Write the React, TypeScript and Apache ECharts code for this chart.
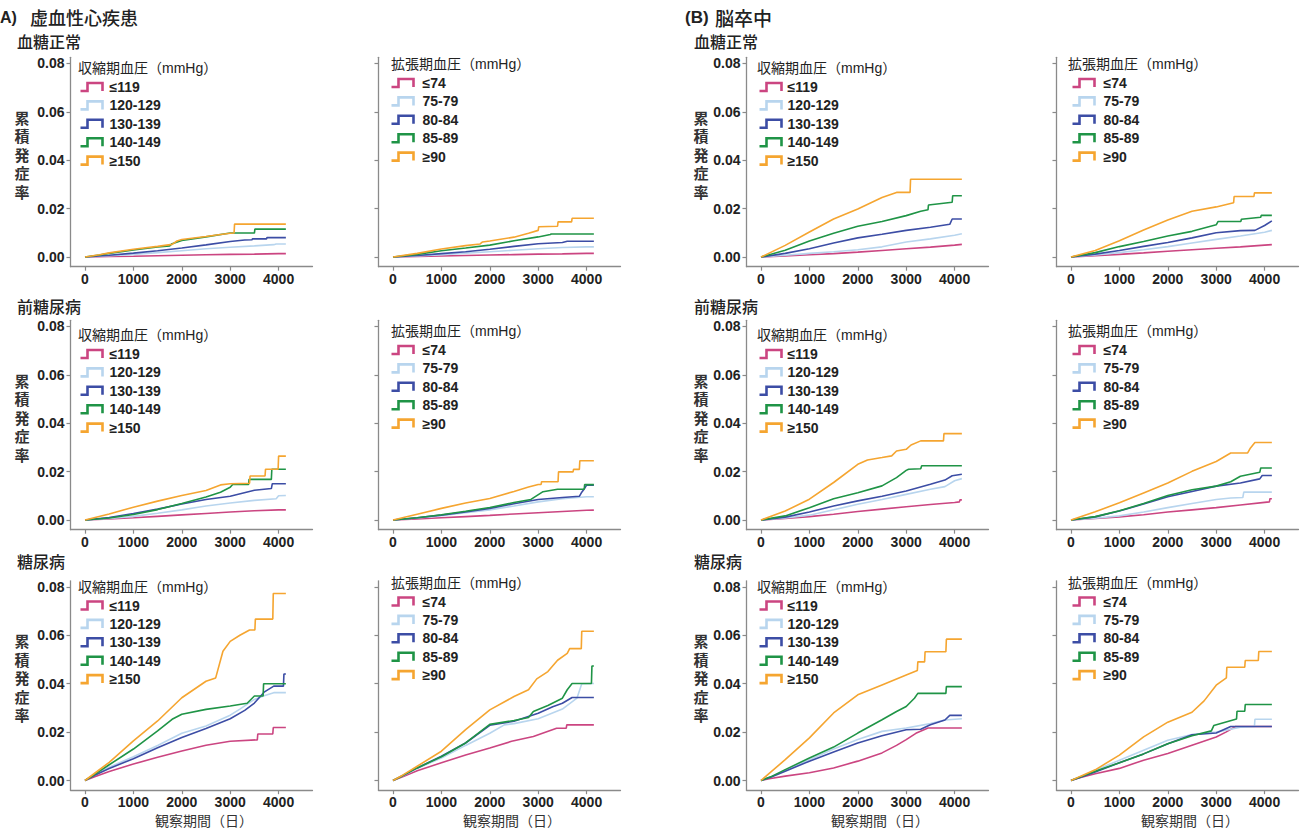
import React, { useEffect, useRef } from "react";
import * as echarts from "echarts";

// ---------- labels ----------
const sbpGroups = ["≤119", "120-129", "130-139", "140-149", "≥150"];
const dbpGroups = ["≤74", "75-79", "80-84", "85-89", "≥90"];
const groupColors = ["#CB4581", "#B8D5EE", "#3C4DA5", "#1F9446", "#F5A530"];
const xTicks = [0, 1000, 2000, 3000, 4000];
const yTicks = [0, 0.02, 0.04, 0.06, 0.08];
const rowTitles = ["血糖正常", "前糖尿病", "糖尿病"];
const sbpTitle = "収縮期血圧（mmHg）";
const dbpTitle = "拡張期血圧（mmHg）";
const yTitle = "累積発症率";
const xTitle = "観察期間（日）";

// ---------- data: [day, cumulative incidence] per BP group ----------
// (A) 虚血性心疾患 / 血糖正常
const ihdNormalSBP = [
  [[0,0],[500,0.0002],[1000,0.0003],[1500,0.0005],[2000,0.0007],[2500,0.0009],[3000,0.0011],[3500,0.0012],[4000,0.0014],[4150,0.0014]],
  [[0,0],[500,0.0005],[1000,0.0011],[1500,0.0018],[2000,0.0026],[2500,0.0034],[3000,0.004],[3500,0.0046],[3900,0.0051],[3950,0.0054],[4150,0.0054]],
  [[0,0],[500,0.0007],[1000,0.0016],[1500,0.0026],[2000,0.0037],[2500,0.005],[3000,0.0064],[3300,0.007],[3450,0.0071],[3460,0.0075],[3750,0.0075],[3760,0.008],[4150,0.008]],
  [[0,0],[300,0.0008],[500,0.0015],[1000,0.0029],[1500,0.0041],[1750,0.0046],[1800,0.0055],[2000,0.0068],[2500,0.0083],[3000,0.0099],[3500,0.0099],[3510,0.0115],[4150,0.0115]],
  [[0,0],[300,0.0009],[500,0.0017],[1000,0.0032],[1500,0.0044],[1800,0.0052],[1900,0.0066],[2000,0.0072],[2500,0.0085],[2800,0.0093],[3000,0.0098],[3080,0.0099],[3090,0.0136],[4150,0.0136]],
];
const ihdNormalDBP = [
  [[0,0],[500,0.0002],[1000,0.0004],[1500,0.0006],[2000,0.0008],[2500,0.001],[3000,0.0012],[3500,0.0013],[4000,0.0015],[4150,0.0015]],
  [[0,0],[500,0.0004],[1000,0.001],[1500,0.0016],[2000,0.0022],[2500,0.0028],[3000,0.0034],[3500,0.0039],[4000,0.0042],[4150,0.0042]],
  [[0,0],[500,0.0006],[1000,0.0014],[1500,0.0022],[2000,0.0032],[2500,0.0044],[3000,0.0055],[3500,0.006],[3600,0.0065],[4150,0.0065]],
  [[0,0],[500,0.0011],[1000,0.0026],[1500,0.0037],[2000,0.0049],[2500,0.0067],[3000,0.0083],[3250,0.0093],[3270,0.0095],[4150,0.0095]],
  [[0,0],[500,0.0015],[1000,0.0033],[1500,0.0047],[1800,0.0054],[1850,0.0062],[2000,0.0066],[2500,0.0082],[2800,0.0098],[3000,0.011],[3010,0.0125],[3400,0.0127],[3410,0.0145],[3690,0.0145],[3700,0.016],[4150,0.016]],
];
// (A) / 前糖尿病
const ihdPreSBP = [
  [[0,0],[500,0.0004],[1000,0.0009],[1500,0.0015],[2000,0.0021],[2500,0.0027],[3000,0.0033],[3500,0.0038],[4000,0.0042],[4150,0.0042]],
  [[0,0],[500,0.0006],[1000,0.0015],[1500,0.0028],[2000,0.0042],[2500,0.0058],[3000,0.007],[3500,0.0081],[3950,0.0088],[4000,0.01],[4150,0.0101]],
  [[0,0],[500,0.001],[1000,0.0027],[1500,0.0045],[2000,0.0066],[2500,0.0085],[3000,0.0098],[3500,0.0123],[3850,0.013],[3870,0.015],[4150,0.015]],
  [[0,0],[500,0.0008],[1000,0.0023],[1500,0.0043],[2000,0.0068],[2500,0.0095],[2800,0.0115],[3000,0.0135],[3050,0.0147],[3380,0.0147],[3390,0.0168],[3850,0.0168],[3860,0.021],[4150,0.021]],
  [[0,0],[500,0.0025],[1000,0.0053],[1500,0.0078],[2000,0.0101],[2500,0.0122],[2800,0.0145],[3000,0.015],[3400,0.0152],[3410,0.0182],[3720,0.0182],[3730,0.021],[3990,0.021],[4000,0.0264],[4150,0.0264]],
];
const ihdPreDBP = [
  [[0,0],[500,0.0004],[1000,0.0009],[1500,0.0014],[2000,0.0019],[2500,0.0025],[3000,0.003],[3500,0.0035],[4000,0.004],[4150,0.0041]],
  [[0,0],[500,0.0008],[1000,0.0018],[1500,0.003],[2000,0.0042],[2500,0.0058],[3000,0.0075],[3500,0.0088],[4000,0.0096],[4150,0.0096]],
  [[0,0],[500,0.0009],[1000,0.002],[1500,0.0033],[2000,0.0048],[2500,0.0067],[3000,0.0085],[3500,0.0093],[3850,0.0098],[3900,0.0115],[3950,0.0128],[4000,0.0144],[4150,0.0144]],
  [[0,0],[500,0.0009],[1000,0.0022],[1500,0.0036],[2000,0.0052],[2500,0.0072],[2850,0.0085],[3100,0.0117],[3400,0.0127],[3950,0.0127],[3960,0.0146],[4150,0.0146]],
  [[0,0],[500,0.0024],[1000,0.0048],[1500,0.007],[2000,0.0089],[2500,0.0118],[2800,0.0136],[3000,0.0147],[3060,0.0147],[3070,0.0158],[3410,0.0158],[3420,0.0199],[3720,0.0199],[3730,0.0209],[3850,0.0209],[3860,0.0245],[4150,0.0245]],
];
// (A) / 糖尿病
const ihdDmSBP = [
  [[0,0],[200,0.0015],[500,0.0037],[1000,0.0068],[1500,0.0096],[2000,0.0122],[2500,0.0146],[3000,0.0162],[3560,0.0168],[3570,0.0192],[3880,0.0192],[3890,0.0219],[4150,0.0219]],
  [[0,0],[200,0.0025],[500,0.0055],[1000,0.0098],[1500,0.0145],[2000,0.0195],[2500,0.0225],[3000,0.027],[3200,0.0295],[3500,0.0335],[3700,0.035],[3900,0.0363],[4150,0.0363]],
  [[0,0],[200,0.0022],[500,0.005],[1000,0.009],[1500,0.0135],[2000,0.0178],[2500,0.0215],[3000,0.0255],[3300,0.029],[3500,0.032],[3700,0.0365],[3900,0.039],[4100,0.039],[4110,0.044],[4150,0.044]],
  [[0,0],[200,0.0025],[500,0.0065],[1000,0.013],[1500,0.0205],[1800,0.0253],[2000,0.0274],[2500,0.0294],[3000,0.0308],[3350,0.0319],[3500,0.0349],[3680,0.0349],[3690,0.04],[4150,0.04]],
  [[0,0],[200,0.003],[500,0.0075],[1000,0.0164],[1500,0.0246],[2000,0.0342],[2500,0.041],[2700,0.0424],[2850,0.0534],[3000,0.0575],[3200,0.06],[3400,0.0622],[3510,0.0622],[3520,0.0667],[3880,0.0667],[3890,0.0773],[4150,0.0773]],
];
const ihdDmDBP = [
  [[0,0],[200,0.0015],[500,0.004],[1000,0.0073],[1500,0.0105],[2000,0.0134],[2450,0.0162],[2900,0.0182],[3380,0.0216],[3580,0.0216],[3590,0.023],[4150,0.023]],
  [[0,0],[200,0.002],[500,0.005],[1000,0.0093],[1500,0.0145],[2000,0.0195],[2300,0.023],[2500,0.0235],[3000,0.0255],[3500,0.0295],[3800,0.034],[3900,0.04],[4150,0.0401]],
  [[0,0],[200,0.002],[500,0.0052],[1000,0.01],[1500,0.0155],[2000,0.0228],[2500,0.0245],[3000,0.0278],[3300,0.0305],[3500,0.0319],[3700,0.0343],[4150,0.0343]],
  [[0,0],[200,0.002],[500,0.0052],[1000,0.0098],[1500,0.0155],[2000,0.0232],[2500,0.0248],[2800,0.026],[2900,0.0285],[3200,0.031],[3500,0.034],[3600,0.0375],[3700,0.0401],[4100,0.0401],[4110,0.0473],[4150,0.0473]],
  [[0,0],[200,0.0022],[500,0.0059],[1000,0.0121],[1500,0.021],[2000,0.0292],[2500,0.0347],[2800,0.0375],[2970,0.042],[3200,0.045],[3400,0.0497],[3600,0.0525],[3650,0.0545],[3890,0.0545],[3900,0.0617],[4150,0.0617]],
];
// (B) 脳卒中 / 血糖正常
const strokeNormalSBP = [
  [[0,0],[500,0.0004],[1000,0.0009],[1500,0.0014],[2000,0.002],[2500,0.0027],[3000,0.0034],[3500,0.0041],[4000,0.0049],[4150,0.0052]],
  [[0,0],[500,0.0007],[1000,0.0015],[1500,0.0022],[2000,0.003],[2500,0.0042],[3000,0.0062],[3500,0.0075],[4000,0.009],[4150,0.0096]],
  [[0,0],[500,0.0015],[1000,0.0034],[1500,0.0058],[2000,0.0079],[2500,0.0094],[3000,0.011],[3500,0.0123],[3900,0.0135],[3950,0.0157],[4150,0.0157]],
  [[0,0],[500,0.0028],[1000,0.0066],[1500,0.0098],[2000,0.0127],[2500,0.0147],[3000,0.0171],[3300,0.0189],[3450,0.0195],[3460,0.0215],[3950,0.0226],[3960,0.0253],[4150,0.0253]],
  [[0,0],[500,0.0048],[1000,0.0103],[1500,0.0157],[2000,0.0198],[2500,0.0246],[2800,0.0267],[3080,0.0267],[3090,0.0321],[4150,0.0321]],
];
const strokeNormalDBP = [
  [[0,0],[500,0.0005],[1000,0.0011],[1500,0.0017],[2000,0.0024],[2500,0.003],[3000,0.0036],[3500,0.0042],[4000,0.0049],[4150,0.0051]],
  [[0,0],[500,0.0008],[1000,0.0018],[1500,0.003],[2000,0.0043],[2500,0.0058],[3000,0.0073],[3500,0.0087],[4000,0.0102],[4150,0.011]],
  [[0,0],[500,0.0012],[1000,0.0027],[1500,0.0044],[2000,0.006],[2500,0.0079],[3000,0.01],[3500,0.0109],[3800,0.011],[4000,0.013],[4150,0.0149]],
  [[0,0],[500,0.0018],[1000,0.0043],[1500,0.0064],[2000,0.0087],[2500,0.0106],[3000,0.0133],[3040,0.0147],[3510,0.0147],[3520,0.0156],[3920,0.0164],[3930,0.0172],[4150,0.0172]],
  [[0,0],[500,0.0027],[1000,0.0067],[1500,0.0112],[2000,0.0153],[2500,0.0189],[3000,0.0207],[3360,0.0224],[3370,0.025],[3780,0.025],[3790,0.0265],[4150,0.0265]],
];
// (B) / 前糖尿病
const strokePreSBP = [
  [[0,0],[500,0.0006],[1000,0.0014],[1500,0.0024],[2000,0.0035],[2500,0.0045],[3000,0.0055],[3500,0.0064],[4000,0.0072],[4100,0.0075],[4110,0.0083],[4150,0.0083]],
  [[0,0],[500,0.0008],[1000,0.002],[1500,0.0042],[2000,0.0065],[2500,0.0085],[3000,0.0106],[3500,0.0127],[3800,0.0138],[4000,0.0162],[4150,0.0171]],
  [[0,0],[500,0.0012],[1000,0.0033],[1500,0.0058],[2000,0.0079],[2500,0.0098],[3000,0.012],[3500,0.0148],[3800,0.0165],[3950,0.0183],[4150,0.0189]],
  [[0,0],[500,0.0017],[1000,0.0051],[1500,0.0088],[2000,0.0113],[2500,0.0141],[2800,0.0175],[3000,0.0205],[3050,0.021],[3300,0.0212],[3320,0.0224],[4150,0.0224]],
  [[0,0],[500,0.0037],[1000,0.0086],[1500,0.0155],[2000,0.023],[2200,0.0248],[2500,0.0258],[2700,0.0265],[2800,0.0285],[3000,0.0292],[3100,0.031],[3300,0.0327],[3770,0.0327],[3780,0.0357],[4150,0.0357]],
];
const strokePreDBP = [
  [[0,0],[500,0.0006],[1000,0.0013],[1500,0.0022],[2000,0.0033],[2500,0.0042],[3000,0.0051],[3500,0.0062],[4000,0.0073],[4100,0.0075],[4110,0.0088],[4150,0.0088]],
  [[0,0],[500,0.0007],[1000,0.0017],[1500,0.0033],[2000,0.0051],[2500,0.0068],[3000,0.0085],[3300,0.0091],[3550,0.0093],[3570,0.0115],[4150,0.0115]],
  [[0,0],[500,0.0013],[1000,0.0037],[1500,0.0066],[2000,0.0096],[2500,0.0118],[3000,0.014],[3500,0.0153],[3900,0.017],[3950,0.0184],[4150,0.0184]],
  [[0,0],[500,0.0014],[1000,0.0038],[1500,0.0068],[2000,0.0101],[2500,0.0125],[3000,0.014],[3300,0.0158],[3500,0.0181],[3900,0.0197],[3920,0.0215],[4150,0.0215]],
  [[0,0],[500,0.0034],[1000,0.0071],[1500,0.0112],[2000,0.0153],[2500,0.0201],[3000,0.0242],[3300,0.0277],[3650,0.0277],[3700,0.0295],[3800,0.032],[4150,0.032]],
];
// (B) / 糖尿病
const strokeDmSBP = [
  [[0,0],[200,0.0008],[500,0.0018],[1000,0.0032],[1500,0.0052],[2000,0.008],[2500,0.0114],[2800,0.0145],[3000,0.0169],[3200,0.0195],[3450,0.0217],[4150,0.0217]],
  [[0,0],[200,0.0015],[500,0.0042],[1000,0.0086],[1500,0.013],[2000,0.0169],[2500,0.0203],[3000,0.0217],[3500,0.0235],[3800,0.025],[4150,0.0255]],
  [[0,0],[200,0.0013],[500,0.0038],[1000,0.008],[1500,0.0118],[2000,0.0155],[2500,0.0185],[3000,0.021],[3300,0.0212],[3500,0.023],[3800,0.025],[3900,0.0269],[4150,0.0269]],
  [[0,0],[200,0.0015],[500,0.0045],[1000,0.0093],[1500,0.0138],[2000,0.0196],[2500,0.0251],[2800,0.0285],[3000,0.0306],[3170,0.034],[3240,0.036],[3820,0.036],[3830,0.0388],[4150,0.0388]],
  [[0,0],[200,0.0035],[500,0.0086],[1000,0.0176],[1500,0.0279],[2000,0.0354],[2500,0.0395],[3000,0.0436],[3230,0.0455],[3240,0.049],[3380,0.049],[3390,0.0532],[3820,0.0532],[3830,0.0584],[4150,0.0584]],
];
const strokeDmDBP = [
  [[0,0],[200,0.0012],[500,0.0028],[1000,0.005],[1500,0.0084],[2000,0.0112],[2500,0.0146],[3000,0.018],[3200,0.02],[3400,0.0223],[4150,0.0223]],
  [[0,0],[200,0.0015],[500,0.0042],[1000,0.0084],[1500,0.0125],[2000,0.0166],[2500,0.019],[3000,0.02],[3500,0.022],[3790,0.0223],[3800,0.0253],[4150,0.0253]],
  [[0,0],[200,0.0013],[500,0.0035],[1000,0.0073],[1500,0.011],[2000,0.0152],[2500,0.0189],[3000,0.0196],[3300,0.0223],[4150,0.0223]],
  [[0,0],[200,0.0015],[500,0.0038],[1000,0.0073],[1500,0.011],[2000,0.0152],[2500,0.0185],[2900,0.0205],[2950,0.0227],[3420,0.0254],[3430,0.0286],[3590,0.0286],[3600,0.0314],[4150,0.0314]],
  [[0,0],[200,0.0018],[500,0.0044],[1000,0.0105],[1500,0.018],[2000,0.0241],[2500,0.0282],[2750,0.0329],[3000,0.0394],[3210,0.0424],[3220,0.0468],[3590,0.0468],[3600,0.0496],[3870,0.0496],[3880,0.0533],[4150,0.0533]],
];

const panels = [
  { col: 0, row: 0, kind: "sbp", curves: ihdNormalSBP },
  { col: 1, row: 0, kind: "dbp", curves: ihdNormalDBP },
  { col: 2, row: 0, kind: "sbp", curves: strokeNormalSBP },
  { col: 3, row: 0, kind: "dbp", curves: strokeNormalDBP },
  { col: 0, row: 1, kind: "sbp", curves: ihdPreSBP },
  { col: 1, row: 1, kind: "dbp", curves: ihdPreDBP },
  { col: 2, row: 1, kind: "sbp", curves: strokePreSBP },
  { col: 3, row: 1, kind: "dbp", curves: strokePreDBP },
  { col: 0, row: 2, kind: "sbp", curves: ihdDmSBP },
  { col: 1, row: 2, kind: "dbp", curves: ihdDmDBP },
  { col: 2, row: 2, kind: "sbp", curves: strokeDmSBP },
  { col: 3, row: 2, kind: "dbp", curves: strokeDmDBP },
];

// ---------- layout (pixels) ----------
const LATIN = "'Liberation Sans', Arial, 'Noto Sans CJK JP', sans-serif";
const CJK = "'Noto Sans CJK JP', 'Liberation Sans', sans-serif";
const AXIS_COLOR = "#8a8a8a";
const TEXT_COLOR = "#222";
const X_MIN = -300, X_MAX = 4700, Y_MIN = -0.004, Y_MAX = 0.0825;
const PX_PER_DAY = 0.0484;
const PX_PER_UNIT = 2420;
const colX0 = [85, 393, 761, 1071];
const rowY0 = [257, 520, 780.5];
const legIconX = [78, 389, 757, 1070];
const legTextPad = [2, 4, 1, 4];
const legTitleX = [78, 391, 757, 1068];
const rowTitleDy = [-191, -187, -196];
const colTitleAdj = [2, -2, 2, -2];

function buildOption() {
  const grid: any[] = [], xAxis: any[] = [], yAxis: any[] = [], series: any[] = [], legend: any[] = [], graphic: any[] = [];
  panels.forEach((p, i) => {
    const x0 = colX0[p.col], y0 = rowY0[p.row];
    const isLeft = p.col % 2 === 0;
    const names = p.kind === "sbp" ? sbpGroups : dbpGroups;
    grid.push({
      left: x0 + X_MIN * PX_PER_DAY,
      top: y0 - Y_MAX * PX_PER_UNIT,
      width: (X_MAX - X_MIN) * PX_PER_DAY,
      height: (Y_MAX - Y_MIN) * PX_PER_UNIT,
      containLabel: false,
    });
    xAxis.push({
      type: "value", gridIndex: i, min: X_MIN, max: X_MAX,
      axisLine: { show: true, onZero: false, lineStyle: { color: AXIS_COLOR, width: 1.3 } },
      axisTick: { show: true, customValues: xTicks, length: 4, lineStyle: { color: AXIS_COLOR, width: 1.2 } },
      axisLabel: { customValues: xTicks, margin: 5, fontSize: 14, fontWeight: "bold", color: TEXT_COLOR, fontFamily: LATIN,
        formatter: (v: number) => String(Math.round(v)) },
      splitLine: { show: false },
    });
    yAxis.push({
      type: "value", gridIndex: i, min: Y_MIN, max: Y_MAX,
      axisLine: { show: true, onZero: false, lineStyle: { color: AXIS_COLOR, width: 1.3 } },
      axisTick: { show: true, customValues: yTicks, length: 4, lineStyle: { color: AXIS_COLOR, width: 1.2 } },
      axisLabel: {
        show: isLeft, customValues: yTicks, margin: 6, fontSize: 14, fontWeight: "bold", color: TEXT_COLOR, fontFamily: LATIN,
        formatter: (v: number) => v.toFixed(2),
      },
      splitLine: { show: false },
    });
    p.curves.forEach((curve, k) => {
      series.push({
        type: "line", name: names[k], xAxisIndex: i, yAxisIndex: i, data: curve,
        showSymbol: false, symbol: "none", silent: true, color: groupColors[k],
        lineStyle: { width: 1.6, color: groupColors[k] },
      });
    });
    const titleY = y0 + rowTitleDy[p.row] + colTitleAdj[p.col];
    graphic.push({
      type: "text", x: legTitleX[p.col], y: titleY,
      style: { text: p.kind === "sbp" ? sbpTitle : dbpTitle, fontSize: 14, fontFamily: LATIN, fill: TEXT_COLOR,
        align: "left", verticalAlign: "middle", textAlign: "left", textVerticalAlign: "middle" },
    });
    legend.push({
      orient: "vertical", left: legIconX[p.col], top: titleY + 19 - 9.2, padding: 0, itemGap: 0,
      itemWidth: 22, itemHeight: 9, selectedMode: false,
      icon: "path://M0,8H7V0H22V8",
      data: names.map((n, k) => ({
        name: n,
        itemStyle: { color: "none", borderColor: groupColors[k], borderWidth: 2.6 },
      })),
      textStyle: { fontSize: 14, fontWeight: "bold", color: TEXT_COLOR, fontFamily: LATIN, lineHeight: 18.4, padding: [0, 0, 0, legTextPad[p.col]] },
    });
    if (p.row === 2) {
      graphic.push({
        type: "text", x: x0 + 119, y: y0 + 39.5,
        style: { text: xTitle, fontSize: 14, fontFamily: CJK, fill: "#333",
          align: "center", verticalAlign: "middle", textAlign: "center", textVerticalAlign: "middle" },
      });
    }
    if (isLeft) {
      graphic.push({
        type: "text", x: p.col === 0 ? 22 : 701, y: y0 - 103,
        style: { text: yTitle.split("").join("\n"), fontSize: 15, lineHeight: 18.5, fontFamily: CJK, fontWeight: "bold", fill: "#333",
          align: "center", verticalAlign: "middle", textAlign: "center", textVerticalAlign: "middle" },
      });
    }
  });
  // section titles
  graphic.push({ type: "text", x: 0, y: 17, style: { text: "A)", fontSize: 16, fontWeight: "bold", fontFamily: LATIN, fill: "#222", align: "left", verticalAlign: "middle", textAlign: "left", textVerticalAlign: "middle" } });
  graphic.push({ type: "text", x: 30, y: 17, style: { text: "虚血性心疾患", fontSize: 18, fontWeight: 500, fontFamily: CJK, fill: "#222", align: "left", verticalAlign: "middle", textAlign: "left", textVerticalAlign: "middle" } });
  graphic.push({ type: "text", x: 685, y: 17, style: { text: "(B)", fontSize: 17, fontWeight: "bold", fontFamily: LATIN, fill: "#222", align: "left", verticalAlign: "middle", textAlign: "left", textVerticalAlign: "middle" } });
  graphic.push({ type: "text", x: 715, y: 17, style: { text: "脳卒中", fontSize: 19, fontWeight: 500, fontFamily: CJK, fill: "#222", align: "left", verticalAlign: "middle", textAlign: "left", textVerticalAlign: "middle" } });
  // row titles
  const rowTitleY = [41, 306, 561];
  rowTitles.forEach((t, r) => {
    [17, 694].forEach((x) => {
      graphic.push({ type: "text", x, y: rowTitleY[r], style: { text: t, fontSize: 16, fontWeight: 500, fontFamily: CJK, fill: "#222", align: "left", verticalAlign: "middle", textAlign: "left", textVerticalAlign: "middle" } });
    });
  });

  return {
    animation: false,
    backgroundColor: "#fff",
    grid, xAxis, yAxis, series, legend, graphic,
  };
}

export default function App() {
  const ref = useRef<HTMLDivElement>(null);
  useEffect(() => {
    const chart = echarts.init(ref.current as HTMLDivElement, null, { renderer: "svg" });
    chart.setOption(buildOption() as any);
    return () => chart.dispose();
  }, []);
  return <div ref={ref} style={{ position: "fixed", left: 0, top: 0, width: 1301, height: 829, background: "#fff" }} />;
}
